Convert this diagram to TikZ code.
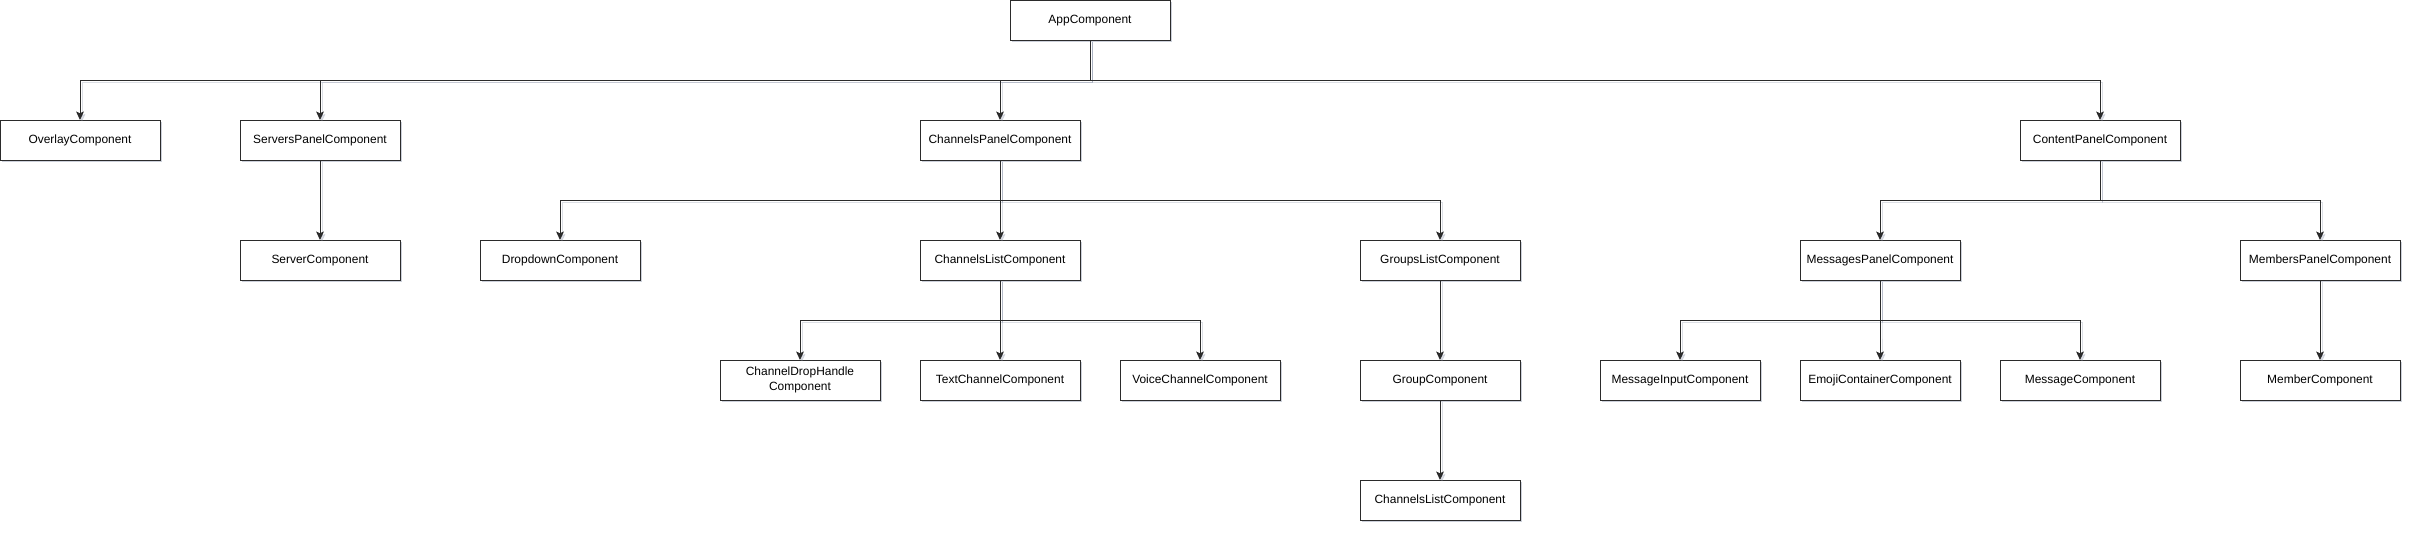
\documentclass[tikz,border=0pt]{standalone}
\usepackage{fontspec}
\setmainfont{Liberation Sans}
\usetikzlibrary{positioning, arrows.meta, shadows}
\definecolor{linecol}{HTML}{2B2B2B}
\definecolor{shadecol}{HTML}{9AA2B5}

\begin{document}
\begin{tikzpicture}[
  every node/.style={font=\fontsize{8.5}{10.2}\selectfont},
  >={Stealth[length=6pt, width=5.5pt, inset=1.2pt]},
  comp/.style={
    draw=linecol, line width=0.7pt, fill=white,
    minimum width=4cm, minimum height=1cm, inner sep=2pt, outer sep=0pt,
    align=center, text height=6.3pt, text depth=1.8pt,
    drop shadow={shadow xshift=1.6pt, shadow yshift=-1.6pt, fill=shadecol, opacity=0.5}
  },
  edge/.style={->, line width=0.7pt, draw=linecol,
    preaction={draw=shadecol, opacity=0.35, transform canvas={shift={(1.4pt,-1.4pt)}}}}
]
\useasboundingbox (0,0) rectangle (60.3,-13.3);

% Root
\node[comp] (app) at (27.25,-0.5) {AppComponent};

% Panels
\node[comp] (overlay) at (2,-3.5) {OverlayComponent};
\node[comp, right=2cm of overlay] (srvpanel) {ServersPanelComponent};
\node[comp] (chpanel) at (25,-3.5) {ChannelsPanelComponent};
\node[comp] (ctpanel) at (52.5,-3.5) {ContentPanelComponent};

% Servers
\node[comp, below=2cm of srvpanel] (server) {ServerComponent};

% Channels
\node[comp, below=2cm of chpanel] (chlist) {ChannelsListComponent};
\node[comp, left=7cm of chlist] (dropdown) {DropdownComponent};
\node[comp, right=7cm of chlist] (grplist) {GroupsListComponent};
\node[comp, below=2cm of chlist] (txtchan) {TextChannelComponent};
\node[comp, left=1cm of txtchan, text height=, text depth=] (drophandle) {ChannelDropHandle\\Component};
\node[comp, right=1cm of txtchan] (voicechan) {VoiceChannelComponent};
\node[comp, below=2cm of grplist] (group) {GroupComponent};
\node[comp, below=2cm of group] (grpchlist) {ChannelsListComponent};

% Content
\node[comp] (msgpanel) at (47,-6.5) {MessagesPanelComponent};
\node[comp] (mbrpanel) at (58,-6.5) {MembersPanelComponent};
\node[comp, below=2cm of msgpanel] (emoji) {EmojiContainerComponent};
\node[comp, left=1cm of emoji] (msginput) {MessageInputComponent};
\node[comp, right=1cm of emoji] (message) {MessageComponent};
\node[comp, below=2cm of mbrpanel] (member) {MemberComponent};

% Arrows
\draw[edge] (app.south) -- ++(0,-1) -| (overlay.north);
\draw[edge] (app.south) -- ++(0,-1) -| (srvpanel.north);
\draw[edge] (app.south) -- ++(0,-1) -| (chpanel.north);
\draw[edge] (app.south) -- ++(0,-1) -| (ctpanel.north);
\draw[edge] (srvpanel) -- (server);
\draw[edge] (chpanel.south) -- ++(0,-1) -| (dropdown.north);
\draw[edge] (chpanel.south) -- ++(0,-1) -| (chlist.north);
\draw[edge] (chpanel.south) -- ++(0,-1) -| (grplist.north);
\draw[edge] (chlist.south) -- ++(0,-1) -| (drophandle.north);
\draw[edge] (chlist.south) -- ++(0,-1) -| (txtchan.north);
\draw[edge] (chlist.south) -- ++(0,-1) -| (voicechan.north);
\draw[edge] (grplist) -- (group);
\draw[edge] (group) -- (grpchlist);
\draw[edge] (ctpanel.south) -- ++(0,-1) -| (msgpanel.north);
\draw[edge] (ctpanel.south) -- ++(0,-1) -| (mbrpanel.north);
\draw[edge] (msgpanel.south) -- ++(0,-1) -| (msginput.north);
\draw[edge] (msgpanel.south) -- ++(0,-1) -| (emoji.north);
\draw[edge] (msgpanel.south) -- ++(0,-1) -| (message.north);
\draw[edge] (mbrpanel) -- (member);

\end{tikzpicture}
\end{document}
